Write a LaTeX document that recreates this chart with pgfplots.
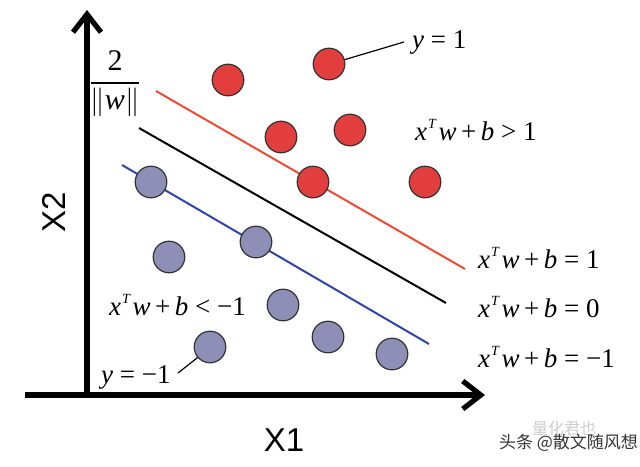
\documentclass[border=0pt]{standalone}
\usepackage{amsmath}
\usepackage{pgfplots}
\pgfplotsset{compat=1.18}
\usepackage{fontspec}
\setmainfont{Liberation Serif}
\newfontfamily\axfont{Liberation Sans}
\newfontfamily\cjk{Noto Sans CJK SC}
\usetikzlibrary{arrows.meta}
\definecolor{cred}{RGB}{226,62,62}
\definecolor{cblue}{RGB}{142,142,182}
\definecolor{lred}{RGB}{238,74,52}
\definecolor{lblue}{RGB}{48,68,168}
\newcommand{\xtw}{\textit{x}\kern0.5pt\raisebox{0.9ex}{\scriptsize\textit{T}}\kern1pt\textit{w}\,\textup{+}\,\textit{b}}
\tikzset{fm/.style={font=\fontsize{13.5}{15}\selectfont, anchor=west}}
\begin{document}
\begin{tikzpicture}
\begin{axis}[
  scale only axis, width=320pt, height=233pt,
  xmin=0, xmax=640, ymin=0, ymax=466, y dir=reverse,
  hide axis, clip=false,
]
% axes
\addplot[black, line width=2.6pt, -{Straight Barb[length=9pt,width=14pt,line width=2.6pt]}] coordinates {(87,396) (87,10)};
\addplot[black, line width=2.6pt, -{Straight Barb[length=9pt,width=14pt,line width=2.6pt]}] coordinates {(25,395) (485,395)};
% hyperplanes
\addplot[lred, line width=1pt] coordinates {(156,91) (465,269)};
\addplot[black, line width=1pt] coordinates {(139,128) (446,303)};
\addplot[lblue, line width=1pt] coordinates {(122,165) (429,344)};
% leader lines
\addplot[black, line width=0.6pt] coordinates {(330,64) (404,42)};
\addplot[black, line width=0.6pt] coordinates {(211,347) (178,373)};
% red points
\addplot[only marks, mark=*, mark size=7.9pt, mark options={fill=cred, draw=black!80, line width=0.6pt}] coordinates {
(228,80) (329,64) (281,137) (350,130) (313,182) (425,182)};
% blue points
\addplot[only marks, mark=*, mark size=7.9pt, mark options={fill=cblue, draw=black!80, line width=0.6pt}] coordinates {
(151,182) (169,257) (256,242) (283,305) (328,337) (392,354) (210,347)};
% labels
\node[font=\axfont\fontsize{16.5}{18}\selectfont, rotate=90] at (axis cs:54,212) {X2};
\node[font=\axfont\fontsize{16.5}{18}\selectfont] at (axis cs:284,440) {X1};
\node[font=\fontsize{15}{17}\selectfont, inner sep=0pt] at (axis cs:115,84) {$\dfrac{\text{2}}{\|\text{\itshape w}\|}$};
\node[fm] at (axis cs:405,42) {\textit{y} = 1};
\node[fm] at (axis cs:408,130) {\xtw\ \textgreater\ 1};
\node[fm] at (axis cs:471,258) {\xtw\ = 1};
\node[fm] at (axis cs:471,307) {\xtw\ = 0};
\node[fm] at (axis cs:471,357) {\xtw\ = \textminus1};
\node[fm] at (axis cs:102,305) {\xtw\ \textless\ \textminus1};
\node[fm] at (axis cs:94,377) {\textit{y} = \textminus1};
\node[font=\cjk\fontsize{8}{9}\selectfont, text=black!20, anchor=west] at (axis cs:525,428) {量化君也};
\node[font=\cjk\fontsize{8.5}{10}\selectfont, text=black!80, anchor=west] at (axis cs:492,443) {头条 @散文随风想};
\end{axis}
\pgfresetboundingbox
\path (current axis.south west) rectangle (current axis.north east);
\end{tikzpicture}
\end{document}
